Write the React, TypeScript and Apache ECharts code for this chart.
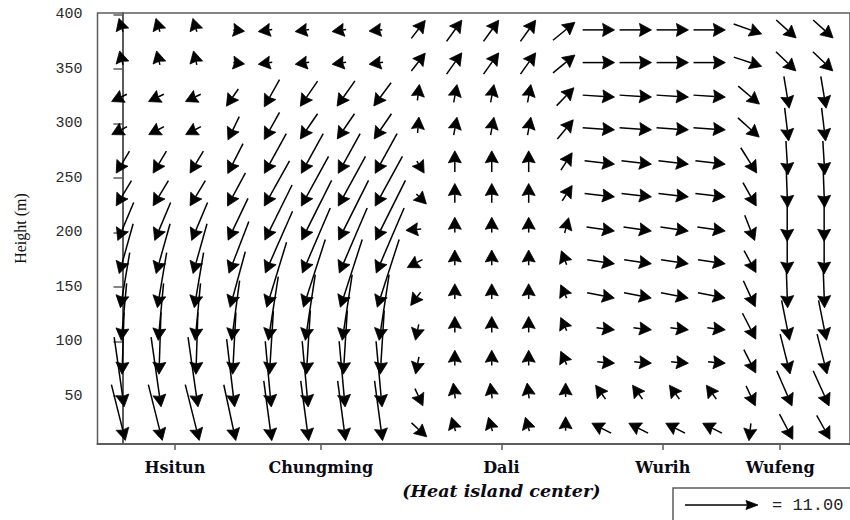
import React, { useEffect, useRef } from "react";
import * as echarts from "echarts";

// Grid columns along the cross-section (index of model column)
const columns = [0, 1, 2, 3, 4, 5, 6, 7, 8, 9, 10, 11, 12, 13, 14, 15, 16, 17, 18, 19];
// Vector levels (m)
const heights = [20, 51, 81, 112, 142, 173, 203, 234, 264, 295, 325, 356, 386];

// Stations along the section (in column units)
const stationNames = ["Hsitun", "Chungming", "Dali", "Wurih", "Wufeng"];
const stationPos = [1.42, 5.37, 10.26, 14.63, 17.81];
const heightTicks = [50, 100, 150, 200, 250, 300, 350, 400];

// Horizontal component, one row per level (bottom to top)
const uRows: number[][] = [
  [2.1, 2.1, 2.1, 1.8, 1.2, 1.2, 1.2, 1.2, 2.3, -0.6, -0.6, -0.6, 0, -2.9, -2.9, -2.9, -2.9, -0.3, 2.0, 2.0],
  [1.5, 1.5, 1.5, 1.2, 0.9, 0.9, 0.9, 0.9, 1.2, -0.3, -0.3, -0.3, 0, -1.5, -1.5, -1.5, -1.5, 1.4, 2.3, 2.4],
  [-0.3, -0.3, -0.3, -0.5, -0.6, -0.6, -0.6, -0.6, -0.5, 0, 0, 0, -0.9, 2.6, 2.6, 2.6, 2.6, 1.8, 1.5, 1.5],
  [-0.8, -0.8, -0.8, -1.2, -1.5, -1.5, -1.5, -1.5, -0.5, 0, 0, 0, -0.9, 2.7, 2.7, 2.7, 2.7, 2.0, 1.2, 1.2],
  [-1.4, -1.4, -1.4, -2.3, -3.0, -3.3, -3.3, -3.3, -1.5, 0, 0, 0, -0.9, 4.1, 4.1, 4.1, 4.1, 1.8, 0.2, 0.2],
  [-2.1, -2.1, -2.1, -3.0, -4.1, -4.2, -4.2, -4.2, -2.3, 0, 0, 0, -0.8, 4.1, 4.1, 4.1, 4.1, 1.8, 0, 0],
  [-2.4, -2.4, -2.4, -3.0, -4.1, -4.5, -4.5, -4.5, -2.3, 0, 0, 0, 0.6, 4.2, 4.2, 4.2, 4.2, 1.5, 0, 0],
  [-2.3, -2.3, -2.3, -2.7, -3.8, -4.1, -4.1, -4.1, 1.5, 0, 0, 0, 1.5, 4.5, 4.5, 4.5, 4.5, 2.0, 0.2, 0.2],
  [-2.0, -2.0, -2.0, -2.3, -3.3, -3.3, -3.3, -3.3, 1.1, 0, 0, 0, 1.7, 4.5, 4.5, 4.5, 4.5, 2.4, 0.3, 0.3],
  [-2.3, -2.3, -2.3, -1.7, -2.3, -2.6, -2.6, -2.6, 0.2, 0.5, 0.5, 0.5, 2.4, 4.8, 4.8, 4.8, 4.8, 3.2, 0.6, 0.6],
  [-2.3, -2.3, -2.3, -1.8, -2.3, -2.6, -2.7, -2.6, 0.3, 0.5, 0.5, 0.5, 2.6, 4.8, 4.8, 4.8, 4.8, 3.2, 0.8, 0.8],
  [-0.5, -0.5, -0.5, 1.7, -2.1, -2.1, -2.1, -2.1, 2.1, 2.3, 2.3, 2.3, 3.3, 4.8, 4.8, 4.8, 4.8, 4.2, 3.0, 3.0],
  [-0.6, -0.6, -0.6, 1.7, -2.1, -2.1, -2.1, -2.0, 2.1, 2.3, 2.3, 2.3, 3.3, 4.8, 4.8, 4.8, 4.8, 4.2, 3.0, 3.0],
];

// Vertical component, one row per level (bottom to top)
const wRows: number[][] = [
  [-8.4, -8.4, -8.4, -8.4, -9.0, -9.0, -9.0, -9.0, -2.1, 2.1, 2.1, 2.1, 2.1, 1.5, 1.5, 1.5, 1.5, -2.6, -3.8, -3.6],
  [-10.5, -10.5, -10.5, -10.2, -9.9, -9.9, -9.9, -9.9, -2.6, 2.3, 2.3, 2.3, 2.1, 2.1, 2.1, 2.1, 2.1, -3.0, -5.3, -5.3],
  [-9.3, -9.3, -9.3, -9.3, -9.5, -9.6, -9.6, -9.6, -2.6, 2.3, 2.3, 2.3, 2.0, -0.2, -0.2, -0.2, -0.2, -3.5, -6.0, -6.0],
  [-8.6, -8.6, -8.6, -9.0, -9.6, -9.9, -9.9, -9.9, -2.4, 2.4, 2.4, 2.4, 2.0, -0.3, -0.3, -0.3, -0.3, -3.9, -6.0, -6.0],
  [-8.3, -8.3, -8.3, -8.4, -9.8, -10.2, -10.2, -10.2, -2.0, 2.3, 2.3, 2.3, 2.0, -0.8, -0.8, -0.8, -0.8, -3.9, -5.7, -5.7],
  [-7.5, -7.5, -7.5, -7.8, -9.3, -9.8, -9.8, -9.8, -1.2, 2.3, 2.3, 2.3, 2.1, -0.6, -0.6, -0.6, -0.6, -3.3, -5.4, -5.4],
  [-5.7, -5.7, -5.7, -6.3, -8.3, -9.0, -9.0, -9.0, -0.2, 2.3, 2.3, 2.3, 2.3, -0.6, -0.6, -0.6, -0.6, -3.8, -5.7, -5.7],
  [-3.8, -3.8, -3.8, -5.0, -6.8, -7.5, -7.5, -7.5, -1.5, 2.9, 2.9, 2.9, 2.3, -0.5, -0.5, -0.5, -0.5, -3.5, -5.4, -5.4],
  [-3.3, -3.3, -3.3, -4.5, -6.0, -6.0, -6.0, -6.0, -1.8, 3.2, 3.2, 3.2, 2.6, -0.5, -0.5, -0.5, -0.5, -3.8, -5.1, -5.1],
  [-1.2, -1.2, -1.2, -3.5, -4.1, -3.8, -3.8, -3.8, 2.4, 2.7, 2.7, 2.7, 2.9, -0.3, -0.3, -0.3, -0.3, -2.9, -5.0, -5.0],
  [-1.1, -1.1, -1.1, -2.6, -4.1, -3.8, -3.8, -3.5, 2.4, 2.7, 2.7, 2.7, 2.7, -0.3, -0.3, -0.3, -0.3, -2.7, -4.8, -4.8],
  [2.1, 2.1, 2.1, -0.2, -0.3, -0.3, -0.3, -0.3, 2.7, 3.2, 3.2, 3.2, 2.7, 0, 0, 0, 0, -1.4, -2.9, -2.9],
  [2.0, 2.0, 2.0, -0.2, -0.3, -0.3, -0.3, -0.2, 2.7, 3.2, 3.2, 3.2, 2.7, 0, 0, 0, 0, -1.5, -2.7, -2.7],
];

// Reference vector shown in the key
const refSpeed = 11.0;

// Drawing constants
const VECTOR_SCALE = 73 / 11; // px per unit of speed
const HEAD_LEN = 12;
const HEAD_HALF = 6.5;
const INK = "#000";
const AXIS_COLOR = "#5c5c5c";

function arrowParts(
  tailX: number,
  tailY: number,
  dx: number,
  dy: number,
  headLen = HEAD_LEN,
  headHalf = HEAD_HALF
) {
  const len = Math.hypot(dx, dy);
  if (len < 0.01) return [];
  const ux = dx / len;
  const uy = dy / len;
  const px = -uy;
  const py = ux;
  const hl = Math.min(headLen, len);
  const tipX = tailX + dx;
  const tipY = tailY + dy;
  const baseX = tipX - ux * hl;
  const baseY = tipY - uy * hl;
  const notchX = tipX - ux * hl * 0.88;
  const notchY = tipY - uy * hl * 0.88;
  return [
    {
      type: "line",
      shape: { x1: tailX, y1: tailY, x2: notchX, y2: notchY },
      style: { stroke: INK, lineWidth: 1.5 },
    },
    {
      type: "polygon",
      shape: {
        points: [
          [tipX, tipY],
          [baseX + px * headHalf, baseY + py * headHalf],
          [notchX, notchY],
          [baseX - px * headHalf, baseY - py * headHalf],
        ],
      },
      style: { fill: INK, stroke: INK, lineWidth: 0.8, lineJoin: "miter" },
    },
  ];
}

export default function App() {
  const ref = useRef<HTMLDivElement>(null);

  useEffect(() => {
    if (!ref.current) return;
    const chart = echarts.init(ref.current, null, { renderer: "svg" });

    const data: number[][] = [];
    heights.forEach((h, r) => {
      columns.forEach((c, k) => {
        data.push([c, h, uRows[r][k], wRows[r][k]]);
      });
    });

    const legendLen = refSpeed * VECTOR_SCALE;

    chart.setOption({
      animation: false,
      grid: {
        left: 97.5,
        top: 13,
        width: 770,
        height: 431,
        show: true,
        borderColor: AXIS_COLOR,
        borderWidth: 1.5,
        backgroundColor: "transparent",
      },
      xAxis: {
        type: "value",
        min: -0.675,
        max: 19.7,
        axisLine: { show: true, onZero: false, lineStyle: { color: AXIS_COLOR, width: 2 } },
        splitLine: { show: false },
        axisTick: {
          show: true,
          customValues: stationPos,
          length: 6,
          lineStyle: { color: AXIS_COLOR, width: 1.5 },
        },
        axisLabel: {
          show: true,
          customValues: stationPos,
          margin: 12,
          formatter: (v: number) => {
            const i = stationPos.indexOf(v);
            if (i < 0) return "";
            const name = stationNames[i];
            return name === "Dali"
              ? `{st|${name}}\n{sub|(Heat island center)}`
              : `{st|${name}}`;
          },
          rich: {
            st: {
              fontFamily: "DejaVu Serif",
              fontWeight: "bold",
              fontSize: 16,
              color: "#0a0a14",
              lineHeight: 22,
            },
            sub: {
              fontFamily: "DejaVu Serif",
              fontWeight: "bold",
              fontStyle: "italic",
              fontSize: 17.5,
              color: "#0a0a14",
              lineHeight: 26,
            },
          },
        },
      },
      yAxis: {
        type: "value",
        min: 6,
        max: 401.5,
        name: "Height (m)",
        nameLocation: "middle",
        nameGap: 69,
        nameRotate: 90,
        nameTextStyle: { fontFamily: "Liberation Serif", fontSize: 16, color: "#111" },
        axisLine: { show: true, lineStyle: { color: AXIS_COLOR, width: 2 } },
        splitLine: { show: false },
        axisTick: {
          show: true,
          customValues: heightTicks,
          length: 9,
          lineStyle: { color: AXIS_COLOR, width: 1.5 },
        },
        axisLabel: {
          show: true,
          customValues: heightTicks,
          margin: 15,
          fontFamily: "Liberation Mono",
          fontSize: 15,
          color: "#2a2a2a",
          formatter: (v: number) => String(v),
        },
      },
      series: [
        {
          type: "custom",
          clip: false,
          encode: { x: 0, y: 1 },
          data,
          renderItem: (params: any, api: any) => {
            const node = api.coord([api.value(0), api.value(1)]);
            const dx = api.value(2) * VECTOR_SCALE;
            const dy = -api.value(3) * VECTOR_SCALE;
            const len = Math.hypot(dx, dy);
            if (len < 0.01) return { type: "group", children: [] };
            const hl = Math.min(HEAD_LEN, len);
            // head base sits on the grid node, shaft trails behind it
            const tipX = node[0] + (dx / len) * hl;
            const tipY = node[1] + (dy / len) * hl;
            return {
              type: "group",
              children: arrowParts(tipX - dx, tipY - dy, dx, dy),
            };
          },
        },
      ],
      graphic: [
        {
          type: "rect",
          shape: { x: 673, y: 488, width: 220, height: 80 },
          style: { fill: "#fff", stroke: AXIS_COLOR, lineWidth: 1.5 },
          z: 10,
        },
        ...arrowParts(685, 505, legendLen, 0, 12, 4.5).map((el) => ({ ...el, z: 11 })),
        {
          type: "text",
          x: 772,
          y: 505,
          z: 11,
          style: {
            text: `= ${refSpeed.toFixed(2)}`,
            fontFamily: "Liberation Mono",
            fontSize: 17,
            fill: "#222",
            verticalAlign: "middle",
            align: "left",
          },
        },
      ],
    });

    return () => chart.dispose();
  }, []);

  return (
    <div
      ref={ref}
      style={{ position: "fixed", left: 0, top: 0, width: 850, height: 520, background: "#fff" }}
    />
  );
}
